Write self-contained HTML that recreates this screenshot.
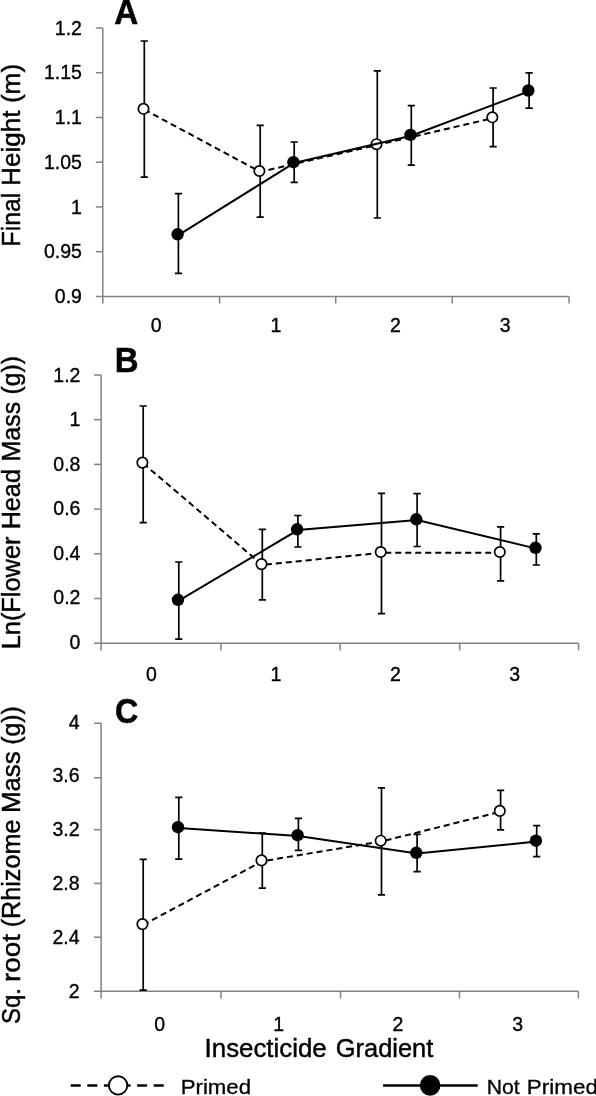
<!DOCTYPE html>
<html><head><meta charset="utf-8"><title>Figure</title>
<style>
html,body{margin:0;padding:0;background:#fff;}
body{width:596px;height:1096px;overflow:hidden;}
svg{display:block;font-family:"Liberation Sans",sans-serif;will-change:transform;opacity:0.999;}
.tk text{font-size:19.5px;fill:#000;stroke:#000;stroke-width:0.35px;}
.ttl{font-size:26px;fill:#000;font-kerning:none;stroke:#000;stroke-width:0.45px;}
.pl{font-size:35.3px;font-weight:bold;fill:#000;stroke:#000;stroke-width:0.5px;}
.lg{font-size:20px;fill:#000;font-kerning:none;stroke:#000;stroke-width:0.3px;}
</style></head><body>
<svg width="596" height="1096" viewBox="0 0 596 1096">
<rect width="596" height="1096" fill="#fff"/>
<g stroke="#828282" stroke-width="1.5" fill="none">
<line x1="102.8" y1="28.0" x2="102.8" y2="303.59999999999997"/>
<line x1="95.8" y1="296.4" x2="569.1" y2="296.4"/>
<line x1="95.8" y1="28.00" x2="102.8" y2="28.00"/>
<line x1="95.8" y1="72.73" x2="102.8" y2="72.73"/>
<line x1="95.8" y1="117.47" x2="102.8" y2="117.47"/>
<line x1="95.8" y1="162.20" x2="102.8" y2="162.20"/>
<line x1="95.8" y1="206.93" x2="102.8" y2="206.93"/>
<line x1="95.8" y1="251.67" x2="102.8" y2="251.67"/>
<line x1="219.6" y1="296.4" x2="219.6" y2="303.59999999999997"/>
<line x1="335.7" y1="296.4" x2="335.7" y2="303.59999999999997"/>
<line x1="452.2" y1="296.4" x2="452.2" y2="303.59999999999997"/>
<line x1="569.1" y1="296.4" x2="569.1" y2="303.59999999999997"/>
</g>
<g class="tk" text-anchor="end">
<text x="81.9" y="34.60">1.2</text>
<text x="81.9" y="79.33">1.15</text>
<text x="81.9" y="124.07">1.1</text>
<text x="81.9" y="168.80">1.05</text>
<text x="81.9" y="213.53">1</text>
<text x="81.9" y="258.27">0.95</text>
<text x="81.9" y="303.00">0.9</text>
</g>
<g class="tk" text-anchor="middle">
<text x="156.2" y="332.25">0</text>
<text x="275.9" y="332.25">1</text>
<text x="395.5" y="332.25">2</text>
<text x="505.1" y="332.25">3</text>
</g>
<g stroke="#000" stroke-width="1.7" fill="none">
<path d="M144.3 41V177.2M140.70 41H147.90M140.70 177.2H147.90"/>
<path d="M260.2 125.3V217.1M256.60 125.3H263.80M256.60 217.1H263.80"/>
<path d="M377.3 70.8V218M373.70 70.8H380.90M373.70 218H380.90"/>
<path d="M493.1 88V146.7M489.50 88H496.70M489.50 146.7H496.70"/>
<path d="M178.4 193.7V273.4M174.80 193.7H182.00M174.80 273.4H182.00"/>
<path d="M294.2 142V182.3M290.60 142H297.80M290.60 182.3H297.80"/>
<path d="M411.3 105.6V165.1M407.70 105.6H414.90M407.70 165.1H414.90"/>
<path d="M529.1 72.9V108.1M525.50 72.9H532.70M525.50 108.1H532.70"/>
</g>
<polyline points="144.30,109.60 260.20,171.80 377.30,145.00 493.10,118.10" fill="none" stroke="#000" stroke-width="2" stroke-dasharray="6.1 3.9"/>
<circle cx="143.5" cy="108.8" r="5.2" fill="#fff" stroke="#000" stroke-width="1.7"/>
<circle cx="259.4" cy="171" r="5.2" fill="#fff" stroke="#000" stroke-width="1.7"/>
<circle cx="376.5" cy="144.2" r="5.2" fill="#fff" stroke="#000" stroke-width="1.7"/>
<circle cx="492.3" cy="117.3" r="5.2" fill="#fff" stroke="#000" stroke-width="1.7"/>
<polyline points="178.40,235.10 294.20,163.00 411.30,135.70 529.10,91.30" fill="none" stroke="#000" stroke-width="2"/>
<circle cx="177.6" cy="234.3" r="6.2" fill="#000"/>
<circle cx="293.4" cy="162.2" r="6.2" fill="#000"/>
<circle cx="410.5" cy="134.9" r="6.2" fill="#000"/>
<circle cx="528.3" cy="90.5" r="6.2" fill="#000"/>
<g stroke="#828282" stroke-width="1.5" fill="none">
<line x1="101.1" y1="375" x2="101.1" y2="650.4000000000001"/>
<line x1="94.1" y1="643.2" x2="578.6" y2="643.2"/>
<line x1="94.1" y1="375.00" x2="101.1" y2="375.00"/>
<line x1="94.1" y1="419.70" x2="101.1" y2="419.70"/>
<line x1="94.1" y1="464.40" x2="101.1" y2="464.40"/>
<line x1="94.1" y1="509.10" x2="101.1" y2="509.10"/>
<line x1="94.1" y1="553.80" x2="101.1" y2="553.80"/>
<line x1="94.1" y1="598.50" x2="101.1" y2="598.50"/>
<line x1="221" y1="643.2" x2="221" y2="650.4000000000001"/>
<line x1="340.2" y1="643.2" x2="340.2" y2="650.4000000000001"/>
<line x1="459.7" y1="643.2" x2="459.7" y2="650.4000000000001"/>
<line x1="578.6" y1="643.2" x2="578.6" y2="650.4000000000001"/>
</g>
<g class="tk" text-anchor="end">
<text x="80.4" y="381.55">1.2</text>
<text x="80.4" y="426.12">1</text>
<text x="80.4" y="470.69">0.8</text>
<text x="80.4" y="515.26">0.6</text>
<text x="80.4" y="559.83">0.4</text>
<text x="80.4" y="604.40">0.2</text>
<text x="80.4" y="648.97">0</text>
</g>
<g class="tk" text-anchor="middle">
<text x="151.5" y="681.05">0</text>
<text x="275.9" y="681.05">1</text>
<text x="395.5" y="681.05">2</text>
<text x="514.8" y="681.05">3</text>
</g>
<g stroke="#000" stroke-width="1.7" fill="none">
<path d="M143.2 406V522.6M139.60 406H146.80M139.60 522.6H146.80"/>
<path d="M262.3 529.3V599.8M258.70 529.3H265.90M258.70 599.8H265.90"/>
<path d="M381.5 493.3V613.6M377.90 493.3H385.10M377.90 613.6H385.10"/>
<path d="M500.6 526.8V580.9M497.00 526.8H504.20M497.00 580.9H504.20"/>
<path d="M178.8 562V639.2M175.20 562H182.40M175.20 639.2H182.40"/>
<path d="M297.9 515.5V547M294.30 515.5H301.50M294.30 547H301.50"/>
<path d="M417.1 493.7V546.5M413.50 493.7H420.70M413.50 546.5H420.70"/>
<path d="M536.3 533.9V565M532.70 533.9H539.90M532.70 565H539.90"/>
</g>
<polyline points="143.20,463.40 262.30,564.90 381.50,552.80 500.60,552.80" fill="none" stroke="#000" stroke-width="2" stroke-dasharray="6.1 3.9"/>
<circle cx="142.4" cy="462.6" r="5.2" fill="#fff" stroke="#000" stroke-width="1.7"/>
<circle cx="261.5" cy="564.1" r="5.2" fill="#fff" stroke="#000" stroke-width="1.7"/>
<circle cx="380.7" cy="552" r="5.2" fill="#fff" stroke="#000" stroke-width="1.7"/>
<circle cx="499.8" cy="552" r="5.2" fill="#fff" stroke="#000" stroke-width="1.7"/>
<polyline points="178.80,600.60 297.90,530.10 417.10,520.10 536.30,548.60" fill="none" stroke="#000" stroke-width="2"/>
<circle cx="178" cy="599.8" r="6.2" fill="#000"/>
<circle cx="297.1" cy="529.3" r="6.2" fill="#000"/>
<circle cx="416.3" cy="519.3" r="6.2" fill="#000"/>
<circle cx="535.5" cy="547.8" r="6.2" fill="#000"/>
<g stroke="#828282" stroke-width="1.5" fill="none">
<line x1="101.1" y1="723.1" x2="101.1" y2="998.4000000000001"/>
<line x1="94.1" y1="991.2" x2="578.4" y2="991.2"/>
<line x1="94.1" y1="723.20" x2="101.1" y2="723.20"/>
<line x1="94.1" y1="777.75" x2="101.1" y2="777.75"/>
<line x1="94.1" y1="829.75" x2="101.1" y2="829.75"/>
<line x1="94.1" y1="883.40" x2="101.1" y2="883.40"/>
<line x1="94.1" y1="937.20" x2="101.1" y2="937.20"/>
<line x1="221" y1="991.2" x2="221" y2="998.4000000000001"/>
<line x1="340.5" y1="991.2" x2="340.5" y2="998.4000000000001"/>
<line x1="459.5" y1="991.2" x2="459.5" y2="998.4000000000001"/>
<line x1="578.4" y1="991.2" x2="578.4" y2="998.4000000000001"/>
</g>
<g class="tk" text-anchor="end">
<text x="79.6" y="728.60">4</text>
<text x="79.6" y="782.40">3.6</text>
<text x="79.6" y="836.20">3.2</text>
<text x="79.6" y="890.00">2.8</text>
<text x="79.6" y="943.80">2.4</text>
<text x="79.6" y="997.70">2</text>
</g>
<g class="tk" text-anchor="middle">
<text x="159.6" y="1031.25">0</text>
<text x="278.8" y="1031.25">1</text>
<text x="398" y="1031.25">2</text>
<text x="517.8" y="1031.25">3</text>
</g>
<g stroke="#000" stroke-width="1.7" fill="none">
<path d="M143.2 859.3V990.2M139.60 859.3H146.80M139.60 990.2H146.80"/>
<path d="M262.3 833.1V888.1M258.70 833.1H265.90M258.70 888.1H265.90"/>
<path d="M381.5 787.8V894.8M377.90 787.8H385.10M377.90 894.8H385.10"/>
<path d="M500.6 790.3V829.8M497.00 790.3H504.20M497.00 829.8H504.20"/>
<path d="M178.8 797.4V859.1M175.20 797.4H182.40M175.20 859.1H182.40"/>
<path d="M298.4 818.4V850.3M294.80 818.4H302.00M294.80 850.3H302.00"/>
<path d="M417.1 834.4V871.7M413.50 834.4H420.70M413.50 871.7H420.70"/>
<path d="M536.7 825.6V856.6M533.10 825.6H540.30M533.10 856.6H540.30"/>
</g>
<polyline points="143.20,924.90 262.30,861.20 381.50,841.50 500.60,811.70" fill="none" stroke="#000" stroke-width="2" stroke-dasharray="6.1 3.9"/>
<circle cx="142.4" cy="924.1" r="5.2" fill="#fff" stroke="#000" stroke-width="1.7"/>
<circle cx="261.5" cy="860.4" r="5.2" fill="#fff" stroke="#000" stroke-width="1.7"/>
<circle cx="380.7" cy="840.7" r="5.2" fill="#fff" stroke="#000" stroke-width="1.7"/>
<circle cx="499.8" cy="810.9" r="5.2" fill="#fff" stroke="#000" stroke-width="1.7"/>
<polyline points="178.80,828.00 298.40,836.00 417.10,853.60 536.70,841.50" fill="none" stroke="#000" stroke-width="2"/>
<circle cx="178" cy="827.2" r="6.2" fill="#000"/>
<circle cx="297.6" cy="835.2" r="6.2" fill="#000"/>
<circle cx="416.3" cy="852.8" r="6.2" fill="#000"/>
<circle cx="535.9" cy="840.7" r="6.2" fill="#000"/>
<text class="pl" transform="translate(114.37 24.0) scale(0.9416 1)">A</text><text class="pl" transform="translate(114.70 372.2) scale(0.9337 1)">B</text><text class="pl" transform="translate(115.08 723.3) scale(0.9142 1)">C</text>
<text class="ttl" transform="translate(19.6 246.44) rotate(-90) scale(0.9546 1)">Final</text>
<text class="ttl" transform="translate(19.6 185.94) rotate(-90) scale(1.0050 1)">Height</text>
<text class="ttl" transform="translate(19.6 103.12) rotate(-90) scale(1.0070 1)">(m)</text>
<text class="ttl" transform="translate(19.8 649.28) rotate(-90) scale(0.9759 1)">Ln(Flower</text>
<text class="ttl" transform="translate(19.8 529.37) rotate(-90) scale(0.9700 1)">Head</text>
<text class="ttl" transform="translate(19.8 461.55) rotate(-90) scale(0.9620 1)">Mass</text>
<text class="ttl" transform="translate(19.8 394.54) rotate(-90) scale(0.9540 1)">(g))</text>
<text class="ttl" transform="translate(20 1023.99) rotate(-90) scale(0.9191 1)">Sq.</text>
<text class="ttl" transform="translate(20 982.06) rotate(-90) scale(1.0750 1)">root</text>
<text class="ttl" transform="translate(20 927.26) rotate(-90) scale(0.9679 1)">(Rhizome</text>
<text class="ttl" transform="translate(20 813.02) rotate(-90) scale(0.9941 1)">Mass</text>
<text class="ttl" transform="translate(20 744.84) rotate(-90) scale(0.9567 1)">(g))</text>
<text class="ttl" transform="translate(204.61 1057.2) scale(0.9943 1)">Insecticide</text>
<text class="ttl" transform="translate(335.82 1057.2) scale(0.9774 1)">Gradient</text>
<line x1="70.7" y1="1085.5" x2="164" y2="1085.5" stroke="#000" stroke-width="2.7" stroke-dasharray="10 6.6"/>
<circle cx="118.1" cy="1085.4" r="9.2" fill="#fff" stroke="#000" stroke-width="1.9"/>
<text class="lg" transform="translate(180.68 1093.6) scale(1.1106 1)">Primed</text>
<line x1="383.1" y1="1085.5" x2="477.7" y2="1085.5" stroke="#000" stroke-width="2.5"/>
<circle cx="430.1" cy="1085.4" r="10.3" fill="#000"/>
<text class="lg" transform="translate(486.66 1093.6) scale(1.0601 1)">Not</text><text class="lg" transform="translate(526.86 1093.6) scale(1.1221 1)">Primed</text>
</svg>
</body></html>
